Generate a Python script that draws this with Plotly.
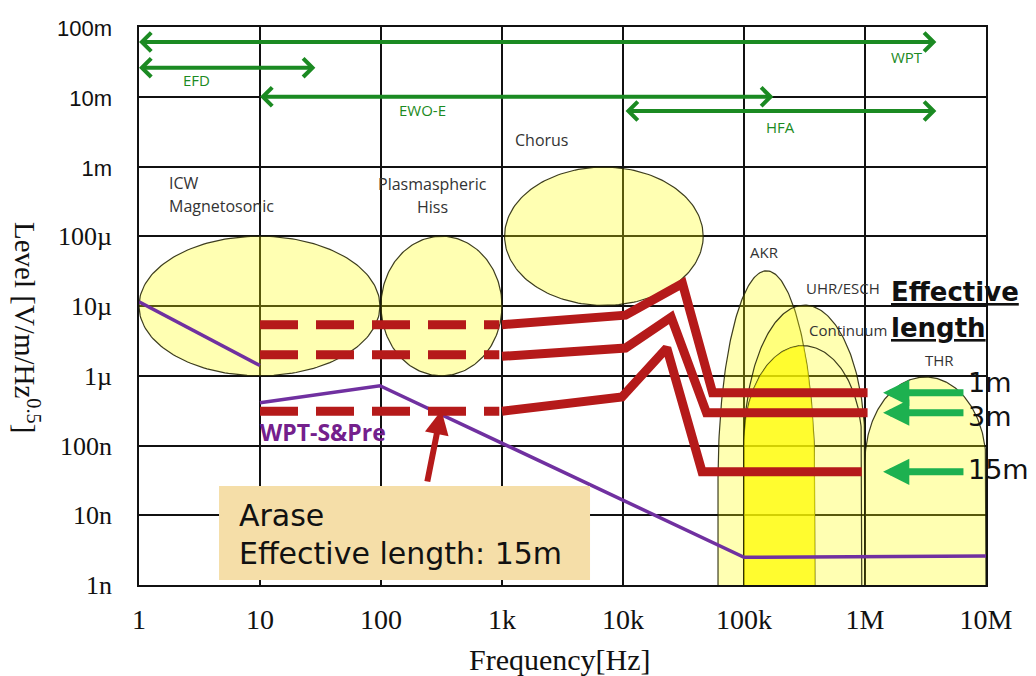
import numpy as np
import plotly.graph_objects as go

# ---------------- axis ticks ----------------
freq_ticks = [1, 10, 100, 1e3, 1e4, 1e5, 1e6, 1e7]
freq_labels = ["1", "10", "100", "1k", "10k", "100k", "1M", "10M"]
level_ticks = [1e-1, 1e-2, 1e-3, 1e-4, 1e-5, 1e-6, 1e-7, 1e-8, 1e-9]
level_labels = ["100m", "10m", "1m", "100µ", "10µ", "1µ", "100n", "10n", "1n"]

# ---------------- wave regions: ellipses ----------------
ell_names = ["ICW Magnetosonic", "Plasmaspheric Hiss", "Chorus"]
ell_f_lo = [1, 100, 1.05e3]
ell_f_hi = [98, 1000, 4.6e4]
ell_v_lo = [1e-6, 1e-6, 1.02e-5]
ell_v_hi = [1e-4, 1e-4, 9.8e-4]

# ---------------- wave regions: arches standing on 1n ----------------
arch_names = ["AKR", "UHR/ESCH", "Continuum", "THR"]
arch_f_lo = [6.1e4, 1e5, 1e5, 1e6]
arch_f_hi = [3.86e5, 1e6, 9.4e5, 1e7]
arch_v_top = [3.2e-5, 1.03e-5, 2.7e-6, 9.6e-7]
arch_v_shoulder = [3.2e-8, 1.0e-7, 1.16e-7, 5.8e-8]
arch_v_base = 1e-9

# ---------------- instrument frequency ranges (green arrows) ----------------
range_names = ["WPT", "EFD", "EWO-E", "HFA"]
range_f_lo = [1, 1, 10, 1.05e4]
range_f_hi = [4e6, 29.5, 1.8e5, 4e6]
range_level = [0.061, 0.0261, 0.01, 6.25e-3]

# ---------------- Arase sensitivity for effective lengths ----------------
eff_names = ["1m", "3m", "15m"]
dash_f = [10, 950]
dash_v = [5.4e-6, 2.0e-6, 3.1e-7]
solid_f_1m = [1000, 1.05e4, 3.1e4, 5.5e4, 1.05e6]
solid_v_1m = [5.4e-6, 7.4e-6, 2.1e-5, 5.7e-7, 5.7e-7]
solid_f_3m = [1000, 1.05e4, 2.5e4, 4.9e4, 1.05e6]
solid_v_3m = [1.9e-6, 2.5e-6, 6.9e-6, 2.95e-7, 2.95e-7]
solid_f_15m = [1000, 9.8e3, 2.3e4, 4.5e4, 9.4e5]
solid_v_15m = [3.1e-7, 4.95e-7, 2.5e-6, 4.2e-8, 4.2e-8]
eff_arrow_f = [6.7e6, 1.41e6]
eff_arrow_v = [5.7e-7, 2.95e-7, 4.2e-8]

# ---------------- WPT-S&Pre sensitivity ----------------
wpt_a_f = [1, 10]
wpt_a_v = [1.15e-5, 1.4e-6]
wpt_b_f = [10, 98, 1e5, 1e7]
wpt_b_v = [4.1e-7, 7.2e-7, 2.5e-9, 2.6e-9]

# ---------------- styles ----------------
YELLOW = "rgba(255,255,0,0.30)"
BRIGHT = "rgba(255,250,0,0.62)"
OUTLINE = "rgba(40,40,10,0.9)"
RED = "#B51A1A"
PURPLE = "#7030A0"
DKGREEN = "#1B8A22"
LTGREEN = "#1DB150"
SERIF = "Liberation Serif"
SANS = "Open Sans"

L = np.log10
fig = go.Figure()

t = np.linspace(0, 2 * np.pi, 200)
for i, n in enumerate(ell_names):
    cx = (L(ell_f_lo[i]) + L(ell_f_hi[i])) / 2
    rx = (L(ell_f_hi[i]) - L(ell_f_lo[i])) / 2
    cy = (L(ell_v_lo[i]) + L(ell_v_hi[i])) / 2
    ry = (L(ell_v_hi[i]) - L(ell_v_lo[i])) / 2
    fig.add_trace(go.Scatter(x=10 ** (cx + rx * np.cos(t)), y=10 ** (cy + ry * np.sin(t)),
                             mode="lines", fill="toself", fillcolor=YELLOW,
                             line=dict(color=OUTLINE, width=1.2), name=n, hoverinfo="name"))


def arch_top(i, lx):
    cx = (L(arch_f_lo[i]) + L(arch_f_hi[i])) / 2
    rx = (L(arch_f_hi[i]) - L(arch_f_lo[i])) / 2
    sh = L(arch_v_shoulder[i])
    ry = L(arch_v_top[i]) - sh
    u = np.clip((lx - cx) / rx, -1, 1)
    return sh + ry * np.sqrt(1 - u ** 2)


ta = np.linspace(0, np.pi, 150)
for i, n in enumerate(arch_names):
    cx = (L(arch_f_lo[i]) + L(arch_f_hi[i])) / 2
    rx = (L(arch_f_hi[i]) - L(arch_f_lo[i])) / 2
    sh = L(arch_v_shoulder[i])
    ry = L(arch_v_top[i]) - sh
    base = L(arch_v_base)
    xs = np.concatenate([[cx + rx, cx + rx], cx + rx * np.cos(ta), [cx - rx, cx - rx]])
    ys = np.concatenate([[base, sh], sh + ry * np.sin(ta), [sh, base]])
    fig.add_trace(go.Scatter(x=10 ** xs, y=10 ** ys, mode="lines",
                             fill="toself" if n != "Continuum" else "none",
                             fillcolor=YELLOW, line=dict(color=OUTLINE, width=1.2),
                             name=n, hoverinfo="name"))

# brighter overlap of AKR and Continuum
ia, ic = arch_names.index("AKR"), arch_names.index("Continuum")
x0 = max(L(arch_f_lo[ia]), L(arch_f_lo[ic]))
x1 = min(L(arch_f_hi[ia]), L(arch_f_hi[ic]))
xo = np.linspace(x0, x1, 150)
yo = np.minimum(arch_top(ia, xo), arch_top(ic, xo))
fig.add_trace(go.Scatter(x=10 ** np.concatenate([xo, [x1, x0]]),
                         y=10 ** np.concatenate([yo, [L(arch_v_base)] * 2]),
                         mode="lines", fill="toself", fillcolor=BRIGHT,
                         line=dict(width=0), hoverinfo="skip"))

# WPT-S&Pre
fig.add_trace(go.Scatter(x=wpt_a_f, y=wpt_a_v, mode="lines", line=dict(color=PURPLE, width=3.5), name="WPT-S&Pre"))
fig.add_trace(go.Scatter(x=wpt_b_f, y=wpt_b_v, mode="lines", line=dict(color=PURPLE, width=3.5), name="WPT-S&Pre"))

# Arase effective length curves
solid_f = [solid_f_1m, solid_f_3m, solid_f_15m]
solid_v = [solid_v_1m, solid_v_3m, solid_v_15m]
for i, n in enumerate(eff_names):
    fig.add_trace(go.Scatter(x=dash_f, y=[dash_v[i]] * 2, mode="lines",
                             line=dict(color=RED, width=9, dash="38px,18px"), name=n))
    fig.add_trace(go.Scatter(x=solid_f[i], y=solid_v[i], mode="lines",
                             line=dict(color=RED, width=9), name=n))

ann = []


def txt(text, f, v, size, color="#333333", family=SANS, xanchor="center", weight="normal", **kw):
    ann.append(dict(x=L(f), y=L(v), xref="x", yref="y", text=text, showarrow=False,
                    xanchor=xanchor, yanchor="middle",
                    font=dict(size=size, color=color, family=family, weight=weight), **kw))


# instrument range arrows
for i, n in enumerate(range_names):
    ann.append(dict(x=L(range_f_lo[i]), y=L(range_level[i]), ax=L(range_f_hi[i]), ay=L(range_level[i]),
                    xref="x", yref="y", axref="x", ayref="y", text="", showarrow=True,
                    arrowhead=4, startarrowhead=4, arrowside="end+start", arrowsize=0.9,
                    startarrowsize=0.9, arrowwidth=4, arrowcolor=DKGREEN, standoff=0, startstandoff=0))

txt("WPT", 2.22e6, 0.037, 15, DKGREEN)
txt("EFD", 2.96, 0.0174, 15, DKGREEN)
txt("EWO-E", 222, 6.46e-3, 15, DKGREEN)
txt("HFA", 2.0e5, 3.68e-3, 15, DKGREEN)

# region labels
txt("ICW", 1.70, 5.79e-4, 16, xanchor="left")
txt("Magnetosonic", 1.70, 2.72e-4, 16, xanchor="left")
txt("Plasmaspheric", 264, 5.61e-4, 16)
txt("Hiss", 264, 2.65e-4, 16)
txt("Chorus", 2.14e3, 2.40e-3, 16)
txt("AKR", 1.49e5, 5.94e-5, 15)
txt("UHR/ESCH", 6.58e5, 1.81e-5, 15)
txt("Continuum", 7.2e5, 4.53e-6, 15)
txt("THR", 4.1e6, 1.68e-6, 15)

txt("WPT-S&Pre", 9.6, 1.56e-7, 23, color="#74208C", xanchor="left", weight="bold")

# effective length arrows + labels
for i, n in enumerate(eff_names):
    ann.append(dict(x=L(eff_arrow_f[1]), y=L(eff_arrow_v[i]), ax=L(eff_arrow_f[0]), ay=L(eff_arrow_v[i]),
                    xref="x", yref="y", axref="x", ayref="y", text="", showarrow=True,
                    arrowhead=2, arrowsize=0.75, arrowwidth=7, arrowcolor=LTGREEN, standoff=0))
txt("1m", 6.85e6, 7.9e-7, 27, color="#111111", family="DejaVu Sans", xanchor="left")
txt("3m", 6.85e6, 2.6e-7, 27, color="#111111", family="DejaVu Sans", xanchor="left")
txt("15m", 6.85e6, 4.5e-8, 27, color="#111111", family="DejaVu Sans", xanchor="left")
txt("Effective", 1.58e6, 1.6e-5, 26, color="#111111", family="DejaVu Sans", xanchor="left",
    weight="bold")
ann[-1]["font"]["lineposition"] = "under"
txt("length", 1.58e6, 4.9e-6, 26, color="#111111", family="DejaVu Sans", xanchor="left",
    weight="bold")
ann[-1]["font"]["lineposition"] = "under"

# pointer arrow to the 15m dashed curve
ann.append(dict(x=L(316), y=L(3.2e-7), ax=L(240), ay=L(2.9e-8), xref="x", yref="y", axref="x", ayref="y",
                text="", showarrow=True, arrowhead=2, arrowsize=0.8, arrowwidth=6, arrowcolor=RED, standoff=0))

# Arase box text
ann.append(dict(x=0.1157, y=0.1254, xref="paper", yref="paper", text="Arase", showarrow=False,
                xanchor="left", yanchor="middle", font=dict(size=30, family="DejaVu Sans", color="#111111")))
ann.append(dict(x=0.1157, y=0.0573, xref="paper", yref="paper", text="Effective length: 15m", showarrow=False,
                xanchor="left", yanchor="middle", font=dict(size=30, family="DejaVu Sans", color="#111111")))

# axis titles
ann.append(dict(x=0.497, y=-0.134, xref="paper", yref="paper", text="Frequency[Hz]", showarrow=False,
                xanchor="center", yanchor="middle", font=dict(size=30, family=SERIF, color="#111111")))
ann.append(dict(x=-0.132, y=0.462, xref="paper", yref="paper", text="Level [V/m/Hz<sup>0.5</sup>]",
                showarrow=False, textangle=90, xanchor="center", yanchor="middle",
                font=dict(size=29, family=SERIF, color="#111111")))

shapes = [dict(type="rect", xref="paper", yref="paper", x0=0.0945, x1=0.5325, y0=0.009, y1=0.1774,
               fillcolor="#F5DEA8", line=dict(width=0), layer="above")]

ytext = []
for lab in level_labels:
    if lab.endswith("m"):
        ytext.append("<span style='font-family:Liberation Sans;font-size:22px'>%s</span>" % lab)
    else:
        ytext.append(lab)

fig.update_layout(
    width=1036, height=676, margin=dict(l=139, r=50, t=27, b=91),
    plot_bgcolor="white", paper_bgcolor="white", showlegend=False,
    annotations=ann, shapes=shapes,
    xaxis=dict(type="log", range=[0, 7], tickvals=freq_ticks, ticktext=freq_labels,
               showgrid=True, gridcolor="#111111", gridwidth=1.5, showline=True, linecolor="#111111",
               linewidth=1.5, mirror=True, ticks="outside", ticklen=9, tickcolor="rgba(0,0,0,0)",
               tickfont=dict(family=SERIF, size=28, color="#111111"), zeroline=False),
    yaxis=dict(type="log", range=[-9, -1], tickvals=level_ticks, ticktext=ytext,
               showgrid=True, gridcolor="#111111", gridwidth=1.5, showline=True, linecolor="#111111",
               linewidth=1.5, mirror=True, ticks="outside", ticklen=20, tickcolor="rgba(0,0,0,0)",
               tickfont=dict(family=SERIF, size=26, color="#111111"), zeroline=False),
)

fig.write_html("out.html", config={"displayModeBar": False},
               post_script="document.body.style.margin='0px';document.body.style.overflow='hidden';")
